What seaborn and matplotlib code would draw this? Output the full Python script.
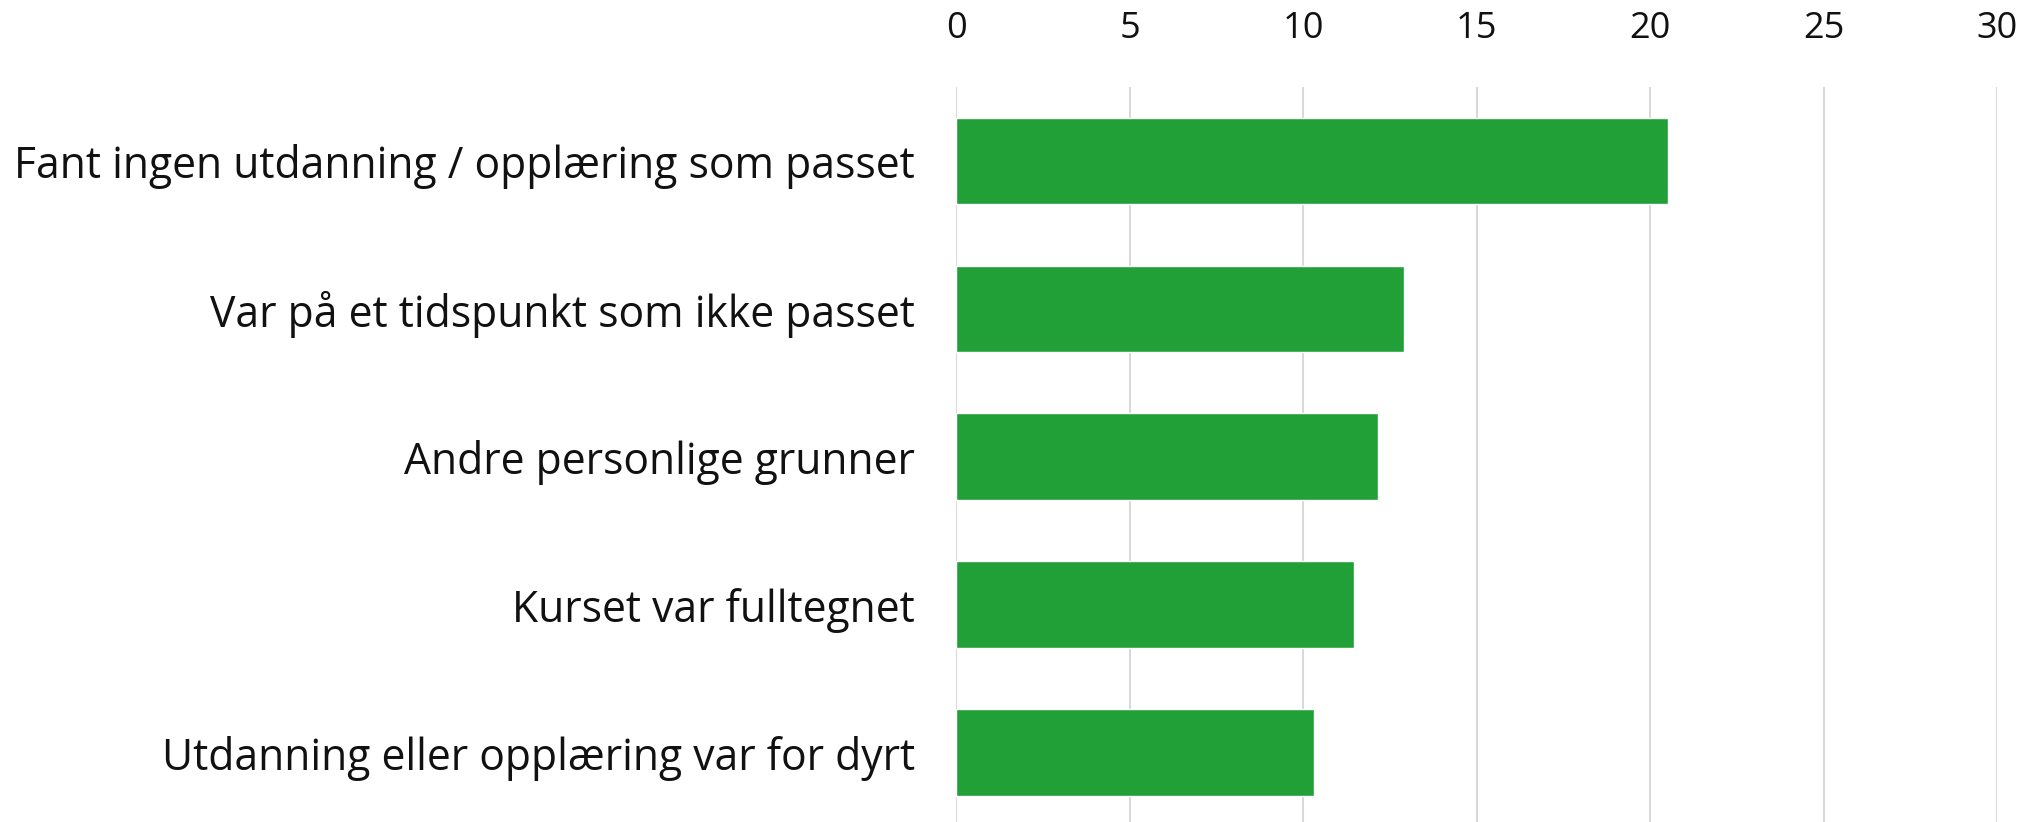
import matplotlib.pyplot as plt
import seaborn as sns
import pandas as pd

# Data
categories = [
    "Fant ingen utdanning / opplæring som passet",
    "Var på et tidspunkt som ikke passet",
    "Andre personlige grunner",
    "Kurset var fulltegnet",
    "Utdanning eller opplæring var for dyrt",
]
values = [20.5, 12.9, 12.15, 11.45, 10.3]
x_ticks = [0, 5, 10, 15, 20, 25, 30]

bar_color = "#21a038"
grid_color = "#d9d9d9"

df = pd.DataFrame({"grunn": categories, "andel": values})

sns.set_theme(style="white")
plt.rcParams["font.family"] = ["Open Sans", "DejaVu Sans"]

fig = plt.figure(figsize=(20.38, 8.22), dpi=100)
ax = fig.add_axes([0.4693, 0.0, 0.5107, 0.894])

sns.barplot(data=df, y="grunn", x="andel", orient="h", color=bar_color,
            saturation=1, width=0.586, ax=ax, zorder=2)

ax.set_xlim(0, 30)
ax.set_ylim(4.47, -0.5)
ax.set_xticks(x_ticks)
ax.xaxis.tick_top()
ax.tick_params(axis="x", length=0, pad=29, labelsize=26, labelcolor="#111111")
ax.tick_params(axis="y", length=0, pad=30, labelsize=30.7, labelcolor="#111111")
ax.set_xlabel("")
ax.set_ylabel("")

ax.grid(axis="x", color=grid_color, linewidth=1.5, zorder=0)
ax.set_axisbelow(True)
for side in ["top", "right", "bottom", "left"]:
    ax.spines[side].set_visible(False)

fig.savefig("out.png", dpi=100)
